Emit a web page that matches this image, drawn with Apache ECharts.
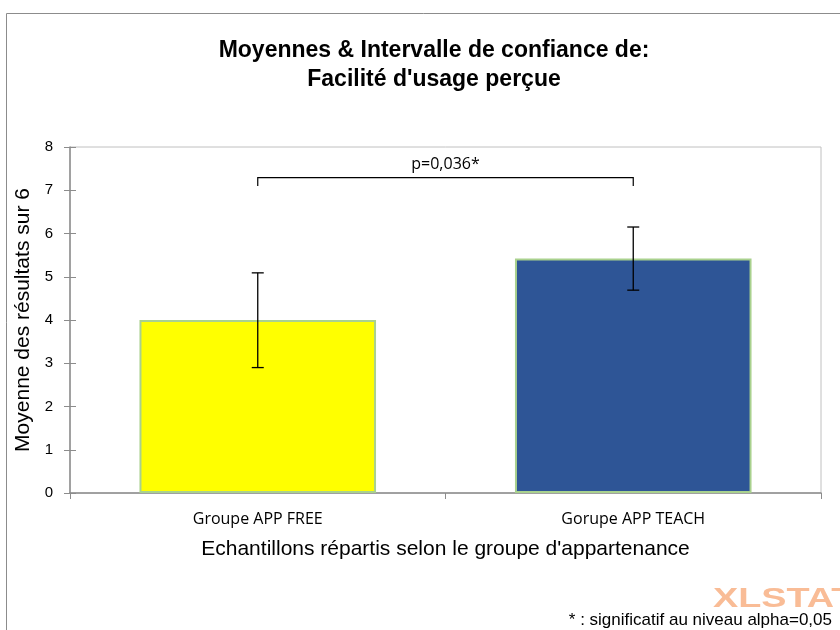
<!DOCTYPE html>
<html>
<head>
<meta charset="utf-8">
<script src="https://cdn.jsdelivr.net/npm/echarts@6/dist/echarts.min.js"></script>
<style>html,body{margin:0;padding:0;background:#fff}#c{width:840px;height:630px}</style>
</head>
<body>
<div id="c"></div>
<script>
var categories = ['Groupe APP FREE', 'Gorupe APP TEACH'];
var means = [4.0, 5.42];
var ciLow = [2.9, 4.69];
var ciHigh = [5.09, 6.15];
var barColors = ['#FFFF00', '#2E5596'];
var bracketY = 7.29;
var bracketLeg = 0.19;
var pLabel = 'p=0,036*';
var yTicks = [0, 1, 2, 3, 4, 5, 6, 7, 8];

var chart = echarts.init(document.getElementById('c'), null, {renderer: 'canvas'});
var option = {
  animation: false,
  backgroundColor: '#fff',
  title: {
    text: 'Moyennes & Intervalle de confiance de:\nFacilité d\'usage perçue',
    left: 434, top: 36, textAlign: 'center', padding: 0,
    textStyle: {fontFamily: 'Liberation Sans', fontWeight: 'bold', fontSize: 23, lineHeight: 29, color: '#000'}
  },
  grid: {left: 70, right: 19, top: 147, bottom: 137, show: true, borderColor: '#c0c0c0', borderWidth: 1},
  xAxis: {
    type: 'category', data: categories,
    axisLine: {lineStyle: {color: '#8c8c8c', width: 1.5}},
    axisTick: {show: true, length: 6, lineStyle: {color: '#8c8c8c'}},
    axisLabel: {color: '#000', fontFamily: 'Open Sans', fontSize: 16, margin: 18},
    name: 'Echantillons répartis selon le groupe d\'appartenance',
    nameLocation: 'middle', nameGap: 46,
    nameTextStyle: {fontFamily: 'Liberation Sans', fontSize: 21, color: '#000'}
  },
  yAxis: [{
    type: 'value', min: yTicks[0], max: yTicks[yTicks.length - 1], interval: 1,
    axisLine: {show: true, lineStyle: {color: '#8c8c8c', width: 1.5}},
    axisTick: {show: true, length: 6, lineStyle: {color: '#8c8c8c'}},
    splitLine: {show: false},
    axisLabel: {color: '#000', fontFamily: 'Liberation Sans', fontSize: 15, margin: 17},
    name: 'Moyenne des résultats sur 6', nameLocation: 'middle', nameGap: 30,
    nameTextStyle: {fontFamily: 'Liberation Sans', fontSize: 21, color: '#000'}
  }, {
    type: 'value', min: yTicks[0], max: yTicks[yTicks.length - 1], interval: 1, position: 'left',
    axisLine: {show: false}, axisLabel: {show: false}, splitLine: {show: false},
    axisTick: {show: true, inside: true, length: 6, lineStyle: {color: '#8c8c8c'}}
  }],
  series: [{
    type: 'bar', data: means.map(function (v, i) { return {value: v, itemStyle: {color: barColors[i]}}; }),
    barWidth: '63%',
    itemStyle: {borderColor: '#A9D18E', borderWidth: 2}
  }, {
    type: 'custom',
    data: categories.map(function (c, i) { return [i, ciLow[i], ciHigh[i]]; }),
    renderItem: function (params, api) {
      var lo = api.coord([api.value(0), api.value(1)]);
      var hi = api.coord([api.value(0), api.value(2)]);
      var w = 6;
      var st = {stroke: '#000', lineWidth: 1.3};
      return {type: 'group', children: [
        {type: 'line', shape: {x1: lo[0], y1: lo[1], x2: hi[0], y2: hi[1]}, style: st},
        {type: 'line', shape: {x1: lo[0] - w, y1: lo[1], x2: lo[0] + w, y2: lo[1]}, style: st},
        {type: 'line', shape: {x1: hi[0] - w, y1: hi[1], x2: hi[0] + w, y2: hi[1]}, style: st}
      ]};
    },
    z: 5
  }, {
    type: 'custom',
    data: [[0, 1, bracketY]],
    renderItem: function (params, api) {
      var a = api.coord([api.value(0), api.value(2)]);
      var b = api.coord([api.value(1), api.value(2)]);
      var a2 = api.coord([api.value(0), api.value(2) - bracketLeg]);
      var st = {stroke: '#000', lineWidth: 1.2, fill: null};
      return {type: 'group', children: [
        {type: 'polyline', shape: {points: [[a[0], a2[1]], [a[0], a[1]], [b[0], b[1]], [b[0], a2[1]]]}, style: st},
        {type: 'text', x: (a[0] + b[0]) / 2, y: a[1] - 13, style: {text: pLabel, fill: '#000', font: '16px "Open Sans"', align: 'center', verticalAlign: 'middle'}}
      ]};
    },
    z: 5
  }],
  graphic: [
    {type: 'rect', shape: {x: 6.5, y: 13.5, width: 900, height: 700}, style: {fill: null, stroke: '#8c8c8c', lineWidth: 1}, z: -10},
    {type: 'text', x: 713, y: 600, scaleX: 1.4, style: {text: 'XLSTAT', fill: '#F9BC96', font: 'bold 27px "Liberation Sans"', verticalAlign: 'middle'}, z: 1},
    {type: 'text', x: 832, y: 620, style: {text: '* : significatif au niveau alpha=0,05', fill: '#000', font: '17px "Liberation Sans"', align: 'right', verticalAlign: 'middle'}, z: 2}
  ]
};
chart.setOption(option);
</script>
</body>
</html>
